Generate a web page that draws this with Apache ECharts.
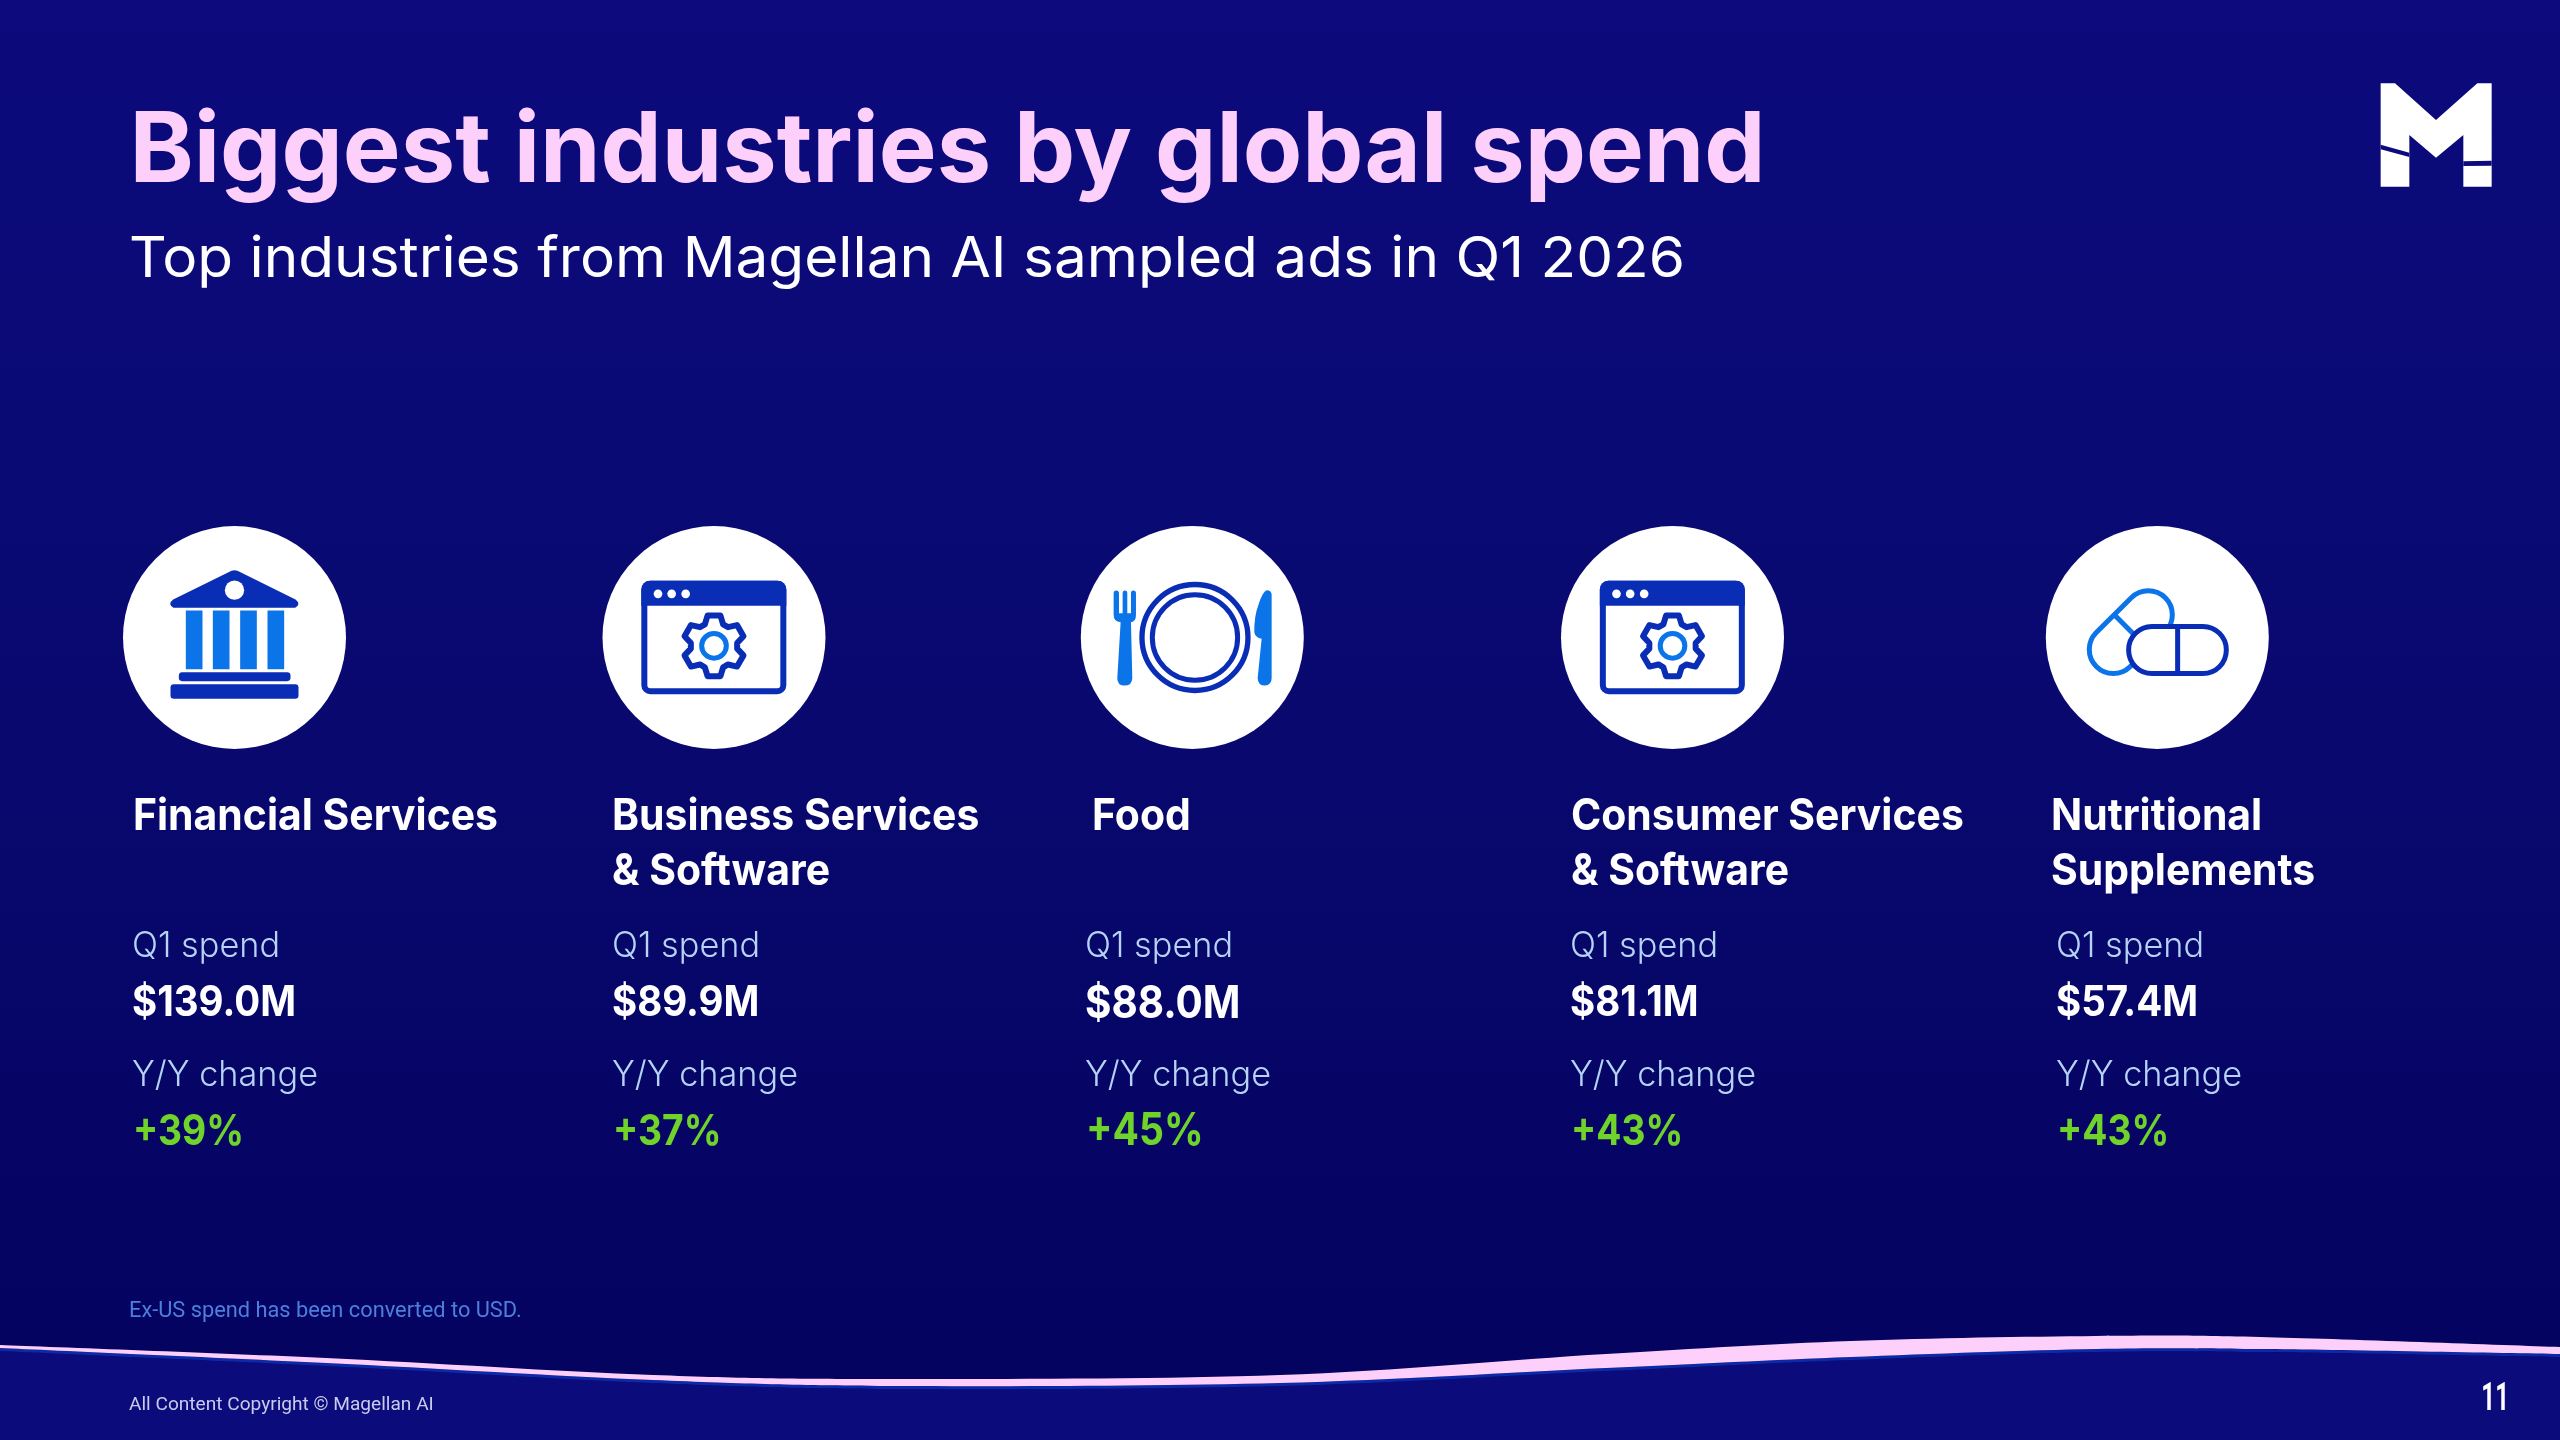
<!DOCTYPE html>
<html><head><meta charset="utf-8">
<style>html,body{margin:0;padding:0;background:#08086e}#c{width:2560px;height:1440px}</style>
<script src="https://cdn.jsdelivr.net/npm/echarts@6/dist/echarts.min.js"></script>
</head><body><div id="c"></div>
<script>
const titleText = 'Biggest industries by global spend';
const subtitleText = 'Top industries from Magellan AI sampled ads in Q1 2026';
const footnoteText = 'Ex-US spend has been converted to USD.';
const copyrightText = 'All Content Copyright © Magellan AI';
const pageNumber = '11';
const nameLines = [['Financial Services'], ['Business Services', '& Software'], ['Food'], ['Consumer Services', '& Software'], ['Nutritional', 'Supplements']];
const spendLabel = 'Q1 spend';
const changeLabel = 'Y/Y change';
const spendValues = ['$139.0M', '$89.9M', '$88.0M', '$81.1M', '$57.4M'];
const changeValues = ['+39%', '+37%', '+45%', '+43%', '+43%'];
const iconKinds = ['bank', 'window', 'plate', 'window', 'pills'];

const circleX = [234.5, 714, 1192.3, 1672.5, 2157.3];
const nameX = [133, 612, 1092, 1571, 2051];
const statX = [132, 612, 1085, 1570, 2056];
const valueScale = [1, 1, 1.05, 1, 1];

const FONT = 'Inter, "Noto Sans", sans-serif';
const PINK = '#fdd0fb', DARK = '#0a2db5', LIGHT = '#0a74e8', LABEL = '#b6d3f6', GREEN = '#6fd32a';
const ctx = document.createElement('canvas').getContext('2d');
function fitScale(font, sample, target) { ctx.font = font; return target / ctx.measureText(sample).width; }

const S = {
  title: {font: '700 97px ' + FONT, fill: PINK},
  sub: {font: '400 56px ' + FONT, fill: '#ffffff'},
  name: {font: '700 44px ' + FONT, fill: '#ffffff'},
  label: {font: '300 35px ' + FONT, fill: LABEL},
  value: {font: '700 43px ' + FONT, fill: '#ffffff'},
  pct: {font: '700 43px ' + FONT, fill: GREEN}
};
S.title.sx = fitScale(S.title.font, titleText, 1636);
S.sub.sx = fitScale(S.sub.font, subtitleText, 1556);
S.name.sx = fitScale(S.name.font, 'Financial Services', 365);
S.label.sx = fitScale(S.label.font, changeLabel, 186);
S.value.sx = fitScale(S.value.font, '$139.0M', 164);
S.pct.sx = fitScale(S.pct.font, '+39%', 111);

function txt(text, x, base, st, size, extra) {
  const sx = (st.sx || 1) * ((extra && extra.k) || 1);
  const sy = (extra && extra.k) || 1;
  return {type: 'text', x, y: base - 0.36 * size * sy, scaleX: sx, scaleY: sy,
    style: {text, font: st.font, fill: st.fill, align: (extra && extra.align) || 'left', verticalAlign: 'middle'}};
}
function gearPath(cx, cy) {
  let d = '';
  for (let i = 0; i < 6; i++) {
    const a = -90 + 60 * i;
    [[70, a - 23], [93, a - 12], [93, a + 12], [70, a + 23]].forEach(([r, t], j) => {
      const rad = t * Math.PI / 180;
      d += ((i === 0 && j === 0) ? 'M' : 'L') + (cx + r * Math.cos(rad)).toFixed(1) + ' ' + (cy + r * Math.sin(rad)).toFixed(1) + ' ';
    });
  }
  return d + 'Z';
}
const fill = c => ({fill: c, stroke: null});
const line = (c, w) => ({fill: null, stroke: c, lineWidth: w, lineJoin: 'round'});
const rect = (x, y, w, h, r, c) => ({type: 'rect', shape: {x, y, width: w, height: h, r}, style: fill(c)});
const path = (d, style) => ({type: 'path', shape: {pathData: d}, style});
const ring = (cx, cy, r, c, w) => ({type: 'circle', shape: {cx, cy, r}, style: line(c, w)});
const dot = (cx, cy, r, c) => ({type: 'circle', shape: {cx, cy, r}, style: fill(c)});

const icons = {
  bank: () => ({o: [373, 368], c: [
    path('M355 172 Q373 160 391 172 L556 254 Q574 268 555 279 L190 279 Q171 268 189 254 Z', fill(DARK)),
    dot(373, 226, 29, '#fff'),
    rect(227, 287, 50, 176, 0, LIGHT), rect(308, 287, 50, 176, 0, LIGHT),
    rect(390, 287, 50, 176, 0, LIGHT), rect(472, 287, 50, 176, 0, LIGHT),
    rect(206, 472, 335, 27, 10, DARK), rect(181, 508, 384, 44, 10, DARK)
  ]}),
  window: () => ({o: [373, 368], c: [
    {type: 'rect', shape: {x: 164, y: 207, width: 417, height: 322, r: 18}, style: line(DARK, 18)},
    rect(155, 198, 435, 75, [25, 25, 0, 0], DARK),
    dot(205, 237, 13, '#fff'), dot(246, 237, 13, '#fff'), dot(288, 237, 13, '#fff'),
    path(gearPath(373, 393), line(DARK, 18)),
    ring(373, 393, 37, LIGHT, 15)
  ]}),
  plate: () => ({o: [367, 368], c: [
    ring(375, 368, 159, DARK, 16), ring(375, 368, 128, DARK, 15),
    path('M131 235 Q131 227 139 227 Q147 227 147 235 L147 295 L158 295 L158 235 Q158 227 165 227 Q172 227 172 235 L172 295 L183 295 L183 235 Q183 227 190 227 Q198 227 198 235 L198 300 Q198 322 183 322 L187 490 Q186 512 164 512 Q142 512 142 490 L152 322 Q131 322 131 300 Z', fill(LIGHT)),
    path('M605 240 Q605 226 590 226 Q578 230 566 268 Q552 305 553 352 Q556 368 575 372 L563 490 Q564 512 585 512 Q605 510 605 490 Z', fill(LIGHT))
  ]}),
  pills: () => ({o: [367, 368], c: [
    path('M289 249 L184 353 A72 72 0 0 0 286 455 L391 351 A72 72 0 0 0 289 249 Z', line(LIGHT, 15)),
    path('M238 300 L294 356', line(LIGHT, 15)),
    {type: 'rect', shape: {x: 281, y: 335, width: 293, height: 141, r: 70}, style: {fill: '#fff', stroke: DARK, lineWidth: 15}},
    path('M428 335 L428 476', line(DARK, 15))
  ]})
};
function iconGroup(kind, cx, cy) {
  const ic = icons[kind]();
  return {type: 'group', x: cx, y: cy, scaleX: 1 / 3, scaleY: 1 / 3,
    children: [{type: 'group', x: -ic.o[0], y: -ic.o[1], children: ic.c}]};
}
function renderCard(params) {
  const i = params.dataIndex;
  const cy = 637.5, cx = circleX[i];
  const kids = [dot(cx, cy, 111.5, '#ffffff'), iconGroup(iconKinds[i], cx, cy)];
  nameLines[i].forEach((t, j) => kids.push(txt(t, nameX[i], 833 + j * 55, S.name, 44)));
  const k = valueScale[i], dy = k > 1 ? 2 : 0;
  kids.push(txt(spendLabel, statX[i], 959, S.label, 35));
  kids.push(txt(spendValues[i], statX[i], 1019 + dy, S.value, 43, {k}));
  kids.push(txt(changeLabel, statX[i], 1088, S.label, 35));
  kids.push(txt(changeValues[i], statX[i] + 1, 1148, S.pct, 43, {k}));
  return {type: 'group', children: kids};
}
// Catmull-Rom through points, returned as SVG cubic segments
function curve(pts, move) {
  let d = (move ? 'M' : 'L') + pts[0][0] + ' ' + pts[0][1] + ' ';
  for (let i = 0; i < pts.length - 1; i++) {
    const p0 = pts[Math.max(i - 1, 0)], p1 = pts[i], p2 = pts[i + 1], p3 = pts[Math.min(i + 2, pts.length - 1)];
    d += 'C' + (p1[0] + (p2[0] - p0[0]) / 6) + ' ' + (p1[1] + (p2[1] - p0[1]) / 6) + ' ' +
      (p2[0] - (p3[0] - p1[0]) / 6) + ' ' + (p2[1] - (p3[1] - p1[1]) / 6) + ' ' + p2[0] + ' ' + p2[1] + ' ';
  }
  return d;
}
const waveTop = [[0, 1345], [326, 1358], [653, 1375], [898, 1379], [1280, 1375], [1606, 1354], [1851, 1341], [2096, 1336], [2260, 1337], [2560, 1347]];
const waveBottom = [[0, 1348], [326, 1363], [653, 1380], [898, 1386], [1280, 1383], [1606, 1368], [1851, 1357], [2096, 1349], [2260, 1349], [2560, 1354]];
function renderChrome() {
  const shift = (p, n) => p.map(q => [q[0], q[1] + n]);
  return {type: 'group', children: [
    path(curve(shift(waveBottom, 3), true) + 'L2560 1440 L0 1440 Z', fill('#0b0b7c')),
    path(curve(waveBottom, true) + curve(shift(waveBottom, 3).reverse(), false) + 'Z', fill('#0c2aa8')),
    path(curve(waveTop, true) + curve(waveBottom.slice().reverse(), false) + 'Z', fill(PINK)),
    txt(titleText, 129.5, 188, S.title, 97),
    txt(subtitleText, 129, 280, S.sub, 56),
    {type: 'text', x: 129, y: 1312, style: {text: footnoteText, font: '400 21.8px Roboto', fill: '#4e7fdc', verticalAlign: 'middle'}},
    {type: 'text', x: 129, y: 1405, style: {text: copyrightText, font: '400 19.1px Roboto', fill: '#c9cbec', verticalAlign: 'middle'}},
    {type: 'text', x: 2509, y: 1400, scaleX: 0.62, style: {text: pageNumber, font: '700 39px Roboto', fill: '#ffffff', align: 'right', verticalAlign: 'middle'}},
    {type: 'group', x: 2340, y: 60, scaleX: 1 / 3, scaleY: 1 / 3, children: [
      {type: 'polygon', shape: {points: [[122, 70], [165, 70], [288, 180], [412, 70], [455, 70], [455, 380], [370, 380], [370, 225], [288, 293], [208, 225], [208, 380], [122, 380]]}, style: fill('#ffffff')},
      {type: 'polygon', shape: {points: [[122, 254], [208, 278], [208, 291], [122, 268]]}, style: fill('#0c0a7c')},
      {type: 'polygon', shape: {points: [[370, 304], [455, 302], [455, 317], [370, 318]]}, style: fill('#0c0a7c')}
    ]}
  ]};
}
const chart = echarts.init(document.getElementById('c'), null, {renderer: 'canvas', width: 2560, height: 1440});
chart.setOption({
  animation: false,
  backgroundColor: {type: 'linear', x: 0, y: 0, x2: 0, y2: 1, colorStops: [
    {offset: 0, color: '#0c0a7c'}, {offset: 0.35, color: '#0a0a74'}, {offset: 0.95, color: '#040360'}]},
  series: [
    {type: 'custom', coordinateSystem: 'none', silent: true, z: 1, data: [[0]], renderItem: renderChrome},
    {type: 'custom', coordinateSystem: 'none', silent: true, z: 2, data: spendValues.map((v, i) => [i]), renderItem: renderCard}
  ]
});
</script></body></html>
